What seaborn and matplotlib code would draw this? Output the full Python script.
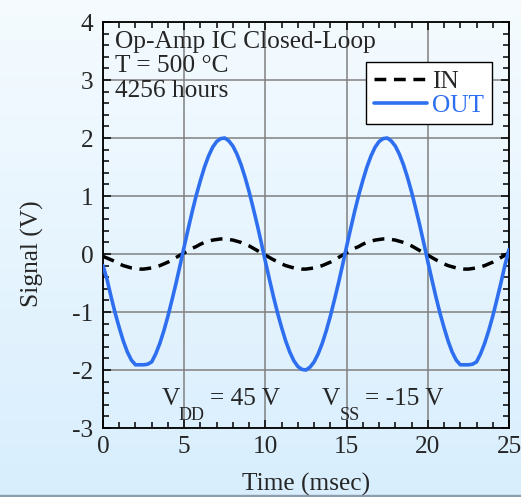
import numpy as np
import pandas as pd
import seaborn as sns
import matplotlib.pyplot as plt
from matplotlib.colors import LinearSegmentedColormap
from matplotlib.ticker import MultipleLocator

# sample times (msec), one reading every 0.25 msec
time_ms = np.linspace(0, 25, 101)

# output signal (V)
v_out = [
    -0.20, -0.44, -0.74, -1.02, -1.27, -1.50, -1.69, -1.83, -1.91, -1.91,
    -1.91, -1.90, -1.86, -1.72, -1.54, -1.32, -1.07, -0.79, -0.50, -0.19,
    0.13, 0.44, 0.74, 1.02, 1.27, 1.50, 1.69, 1.84, 1.94, 1.99,
    2.00, 1.95, 1.86, 1.72, 1.54, 1.32, 1.07, 0.79, 0.50, 0.19,
    -0.13, -0.44, -0.74, -1.02, -1.27, -1.50, -1.69, -1.84, -1.94, -1.99,
    -2.00, -1.95, -1.86, -1.72, -1.54, -1.32, -1.07, -0.79, -0.50, -0.19,
    0.13, 0.44, 0.74, 1.02, 1.27, 1.50, 1.69, 1.84, 1.94, 1.99,
    2.00, 1.95, 1.86, 1.72, 1.54, 1.32, 1.07, 0.79, 0.50, 0.19,
    -0.13, -0.44, -0.74, -1.02, -1.27, -1.50, -1.69, -1.83, -1.91, -1.91,
    -1.91, -1.90, -1.86, -1.72, -1.54, -1.32, -1.07, -0.79, -0.50, -0.19,
    0.08,
]

# input signal (V)
v_in = [
    -0.04, -0.07, -0.10, -0.13, -0.17, -0.20, -0.22, -0.24, -0.25, -0.26,
    -0.26, -0.25, -0.24, -0.22, -0.20, -0.17, -0.14, -0.10, -0.06, -0.02,
    0.02, 0.06, 0.10, 0.13, 0.17, 0.20, 0.22, 0.24, 0.25, 0.26,
    0.26, 0.25, 0.24, 0.22, 0.20, 0.17, 0.14, 0.10, 0.06, 0.02,
    -0.02, -0.06, -0.10, -0.13, -0.17, -0.20, -0.22, -0.24, -0.25, -0.26,
    -0.26, -0.25, -0.24, -0.22, -0.20, -0.17, -0.14, -0.10, -0.06, -0.02,
    0.02, 0.06, 0.10, 0.13, 0.17, 0.20, 0.22, 0.24, 0.25, 0.26,
    0.26, 0.25, 0.24, 0.22, 0.20, 0.17, 0.14, 0.10, 0.06, 0.02,
    -0.02, -0.06, -0.10, -0.13, -0.17, -0.20, -0.22, -0.24, -0.25, -0.26,
    -0.26, -0.25, -0.24, -0.22, -0.20, -0.17, -0.14, -0.10, -0.06, -0.02,
    0.02,
]

info_lines = ["Op-Amp IC Closed-Loop", "T = 500 °C", "4256 hours"]

df = pd.DataFrame({"time": time_ms, "IN": v_in, "OUT": v_out})

sns.set_style("ticks")
plt.rcParams["font.family"] = ["Liberation Serif", "DejaVu Serif"]
plt.rcParams["axes.unicode_minus"] = False

BLUE = "#2E6FF0"
FS = 18.3

fig = plt.figure(figsize=(5.21, 4.97), dpi=100)

# light blue gradient behind everything
bg = fig.add_axes([0, 0, 1, 1], zorder=-10)
grad = LinearSegmentedColormap.from_list("bg", ["#F5FBFF", "#D8EEFD"])
bg.imshow(np.linspace(0, 1, 256).reshape(-1, 1), aspect="auto", cmap=grad,
          extent=[0, 1, 0, 1])
bg.axhspan(0, 0.005, color="#8C9DAE")
bg.set_xlim(0, 1)
bg.set_ylim(0, 1)
bg.axis("off")

ax = fig.add_axes([0.1977, 0.1388, 0.7793, 0.8169])
ax.set_facecolor("none")

sns.lineplot(data=df, x="time", y="IN", ax=ax, color="black", lw=2.5,
             label="IN", zorder=3)
sns.lineplot(data=df, x="time", y="OUT", ax=ax, color=BLUE, lw=2.6,
             label="OUT", zorder=4)
ax.lines[0].set_dashes((3.4, 2.2))

ax.set_xlim(0, 25)
ax.set_ylim(-3, 4)
ax.xaxis.set_major_locator(MultipleLocator(5))
ax.xaxis.set_minor_locator(MultipleLocator(1))
ax.yaxis.set_major_locator(MultipleLocator(1))
ax.yaxis.set_minor_locator(MultipleLocator(0.2))
ax.grid(True, which="major", color="#808080", lw=1.1)
ax.tick_params(which="both", direction="in", top=True, right=True,
               width=1.1, color="black", labelsize=FS)
ax.tick_params(which="major", length=6, pad=6)
ax.tick_params(axis="y", which="major", pad=7)
ax.tick_params(which="minor", length=4.3)
for s in ax.spines.values():
    s.set_linewidth(1.3)
    s.set_color("black")

ax.set_xlabel("Time (msec)", fontsize=FS)
ax.set_ylabel("Signal (V)", fontsize=FS)
ax.xaxis.set_label_coords(0.5, -0.11)
ax.yaxis.set_label_coords(-0.145, 0.43)

for txt, yy in zip(info_lines, [0.936, 0.876, 0.815]):
    ax.text(0.03, yy, txt, transform=ax.transAxes, fontsize=FS,
            ha="left", va="baseline")

# supply voltages
ax.text(3.6, -2.6, "V", fontsize=FS, va="baseline")
ax.text(4.68, -2.86, "DD", fontsize=13, va="baseline")
ax.text(6.59, -2.6, "= 45 V", fontsize=FS, va="baseline")
ax.text(13.49, -2.6, "V", fontsize=FS, va="baseline")
ax.text(14.59, -2.86, "SS", fontsize=13, va="baseline")
ax.text(16.13, -2.6, "= -15 V", fontsize=FS, va="baseline")

leg = ax.legend(loc="upper right", bbox_to_anchor=(0.958, 0.901),
                fontsize=FS, frameon=True, fancybox=False, framealpha=1,
                edgecolor="black", handlelength=2.1, handletextpad=0.2,
                labelspacing=0.05, borderpad=0.3, borderaxespad=0)
leg.get_frame().set_linewidth(1.0)
leg.get_texts()[1].set_color(BLUE)

fig.savefig("out.png", dpi=100)
